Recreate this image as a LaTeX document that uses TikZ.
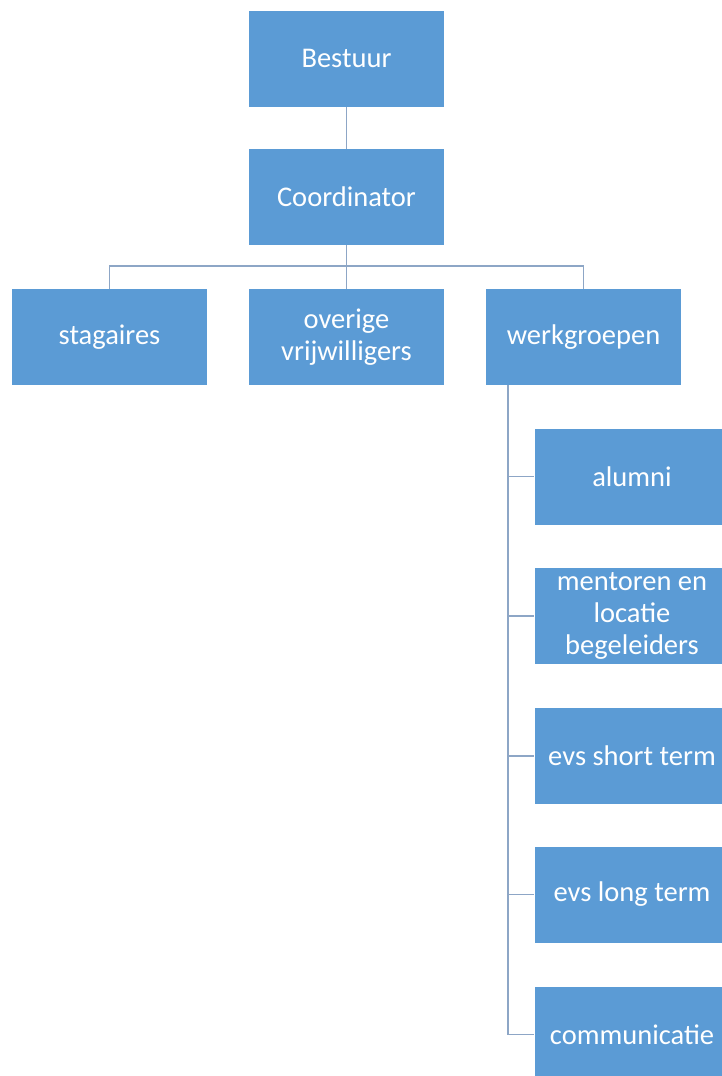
\documentclass[tikz,border=0pt]{standalone}
\usepackage{fontspec}
\setmainfont{Carlito}
\definecolor{boxblue}{HTML}{5B9BD5}
\definecolor{linecol}{HTML}{8DA6C6}
\begin{document}
\begin{tikzpicture}[x=1pt,y=-1pt,
  box/.style={rectangle,fill=boxblue,draw=none,minimum width=195pt,minimum height=96pt,
    text=white,font=\fontsize{28.5}{31.7}\selectfont,align=center,inner sep=0pt},
  conn/.style={draw=linecol,line width=1.6pt}]
\useasboundingbox (0,0) rectangle (722,1076);
\clip (0,0) rectangle (722,1076);
\node[box] (bestuur) at (346.5,58.5) {Bestuur};
\node[box] (coord) at (346.5,197) {Coordinator};
\node[box] (stag) at (109.5,337) {stagaires};
\node[box] (overig) at (346.5,337) {overige\\vrijwilligers};
\node[box] (werk) at (583.5,337) {werkgroepen};
\node[box] (alumni) at (632,476.5) {alumni};
\node[box] (mentor) at (632,616) {mentoren en\\locatie\\begeleiders};
\node[box] (short) at (632,756) {evs short term};
\node[box] (long) at (632,894.5) {evs long term};
\node[box] (comm) at (632,1034.5) {communicatie};
\coordinate (bar) at (346.5,266);
\coordinate (trunk) at (508,385);
\draw[conn] (bestuur.south) -- (coord.north);
\draw[conn] (coord.south) -- (overig.north);
\draw[conn] (stag.north) |- (bar) -| (werk.north);
\draw[conn] (trunk) |- (alumni.west);
\draw[conn] (trunk) |- (mentor.west);
\draw[conn] (trunk) |- (short.west);
\draw[conn] (trunk) |- (long.west);
\draw[conn] (trunk) |- (comm.west);
\end{tikzpicture}
\end{document}
